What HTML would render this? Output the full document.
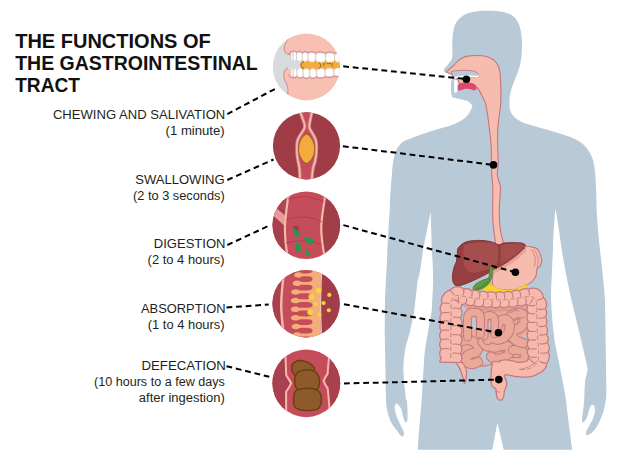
<!DOCTYPE html>
<html><head><meta charset="utf-8">
<style>
html,body{margin:0;padding:0;background:#fff;}
body{width:625px;height:462px;overflow:hidden;}
svg{display:block;}
.t{font-family:"Liberation Sans",sans-serif;font-weight:bold;font-size:20px;fill:#111;}
.l{font-family:"Liberation Sans",sans-serif;font-size:13px;fill:#231f20;}
.p{font-size:12px;}
</style></head><body>
<svg width="625" height="462" viewBox="0 0 625 462">
<!-- BODY SILHOUETTE -->
<path id="body" fill="#b8c9d7" d="
M488.5 10.7
C501 10.5 511 12.5 516 19
C520.5 25 522 34 522 45
C522 57 520.5 65 518 72
C514 82 510 90 509.5 100
L509.5 106
C510 114 514 119 526 123.8
C540 128 560 133 572.7 138
C583 142 590 150 593 160
C595.5 170 596.3 185 596.6 210
C598 240 603 270 605 300
L606.4 393
C606 408 601 420 596 428
C593 432 589 435.5 586.5 435.2
C585.5 434 586 432 587.5 429
C590.5 424 595 416 595 410
C595 406 593.5 404.5 592 404.7
C590 406 589 410 588 414
C587 418 585 422 583 422.2
C581.5 422 582 418 582.5 415
C583.5 408 584.5 400 584.5 390
L585.2 380
L587.8 369.3
L583.4 349.8
C580 335 575 315 571.5 300
C567 280 563 258 561.8 250
C559 230 557 215 555.3 208.7
C554 225 553 240 553 250
C552 270 551 290 551 300
C552 320 554 340 556.4 350
C559.5 365 563 382 566 400
C568 420 570.5 435 572.2 449.7
L503.8 449.7
L497.4 422.8
L492.2 449.7
L417.8 449.7
C418.5 435 420 420 421.6 400
C422.5 385 423.5 370 424.2 358
C425 348 427 338 428 332
C430 320 432 312 432 306
C432.5 295 433 288 433.2 280
C433 265 432 250 431.7 250
C431.5 235 431 222 430.6 212
C428 225 425 240 423 250
C421 265 419 280 417.7 280
C416 295 415 305 413.8 313.8
C412 322 411 327 409.9 332
C407 342 405 348 404.7 352.7
C403.5 360 403.3 365 403.4 371
C403.6 380 405 390 406 400
L406.9 399.9
C407.5 405 407.6 412 407.5 419.8
C407 422 406.5 423 405.9 422.8
C404 421 403.5 418 402.9 415.8
C402 411 401 407 399.9 406.9
C398 404 396.5 403 395.9 403.9
C394.5 405 394.5 408 394.9 409.8
C395.5 414 397 417 397.9 419.8
C399.5 423 401 426 401.9 427.8
C403 430 404.5 433 404 433.7
C403.5 436 402.9 436.7 402.9 436.7
C401 436.5 399 434 398 431.8
C394 427 391.5 424 390 420
C387.5 413 386 406 386 400
L384.7 332
L385 300
C386 280 387 262 387.3 250
C388 235 389 222 389.7 210
C390 196 391 185 391.9 175
C392.5 166 393 162 394 157.6
C395 152 396.5 149 398.4 146.8
C401 143 403 141.5 406 140.3
C412 138 418 135.5 423.3 133.8
C433 130.5 442 128 451.4 125.2
C458 122.5 463 120 466.6 116.5
C469 114 470.5 111 470.9 110
L472.5 106
C470 102 467 100.5 466 100.5
L452 97.3
C451 93 451 88 451 84
L452.3 74.5
L446.8 73
C445.5 72.8 444.5 72.5 444 71.5
C443.6 70.5 443.8 69.5 444.6 68.2
C446 66.5 447.5 65 448.3 63.9
C450 62 451.4 60.5 451.8 59
C452.3 57.5 452.5 56 452.5 54.8
L452.3 50
C452 42 452.5 34 454 28
C456 20 462 15 470 12.5
C476 11 482 10.7 488.5 10.7 Z"/>

<!-- PHARYNX / ESOPHAGUS -->
<path fill="#f6bcae" stroke="#c47581" stroke-width="1.1" d="M446.4 71.9 C449 69.5 451 67.8 452.9 66.2 C455 64 457 61.8 458.9 60.2 C461 58.5 463 57.2 466 56.4 C474 55.2 482 55.2 488 57 C495 59.5 499 65 500 72 C500.6 80 501 90 501 96 L500.9 97.4 L500.9 98.8 L500.9 100.2 L500.8 101.6 L500.7 103.0 L500.6 104.5 L500.4 106.0 L500.3 107.6 L500.1 109.2 L499.8 110.8 L499.6 112.4 L499.4 114.0 L499.2 115.6 L499.0 117.2 L498.8 118.8 L498.6 120.4 L498.4 122.0 L498.2 123.6 L498.1 125.2 L497.9 126.8 L497.8 128.4 L497.7 129.9 L497.7 131.5 L497.6 133.1 L497.6 134.7 L497.5 136.3 L497.5 137.9 L497.6 139.4 L497.6 141.0 L497.6 142.6 L497.6 144.2 L497.7 145.7 L497.7 147.2 L497.8 148.8 L497.8 150.3 L497.9 152.0 L498.0 153.7 L498.0 155.5 L498.1 157.3 L498.2 159.2 L498.2 161.1 L498.2 163.0 L498.1 165.0 L497.9 167.0 L497.6 169.0 L497.4 171.1 L497.3 173.1 L497.4 175.0 L497.7 176.9 L498.2 178.8 L498.7 180.7 L499.3 182.5 L499.8 184.2 L500.2 185.6 L500.4 186.7 L500.5 187.5 L500.5 188.1 L500.5 188.7 L500.5 189.6 L500.4 191.0 L500.3 192.9 L500.1 195.1 L500.0 197.5 L499.8 200.1 L499.6 202.8 L499.5 205.3 L499.4 207.8 L499.4 210.4 L499.4 213.0 L499.4 215.6 L499.4 218.1 L499.5 220.5 L499.6 222.7 L499.8 224.8 L500.0 226.8 L500.3 228.7 L500.6 230.6 L500.9 232.6 L501.3 234.6 L501.8 236.6 L502.3 238.6 L502.8 240.5 L503.3 242.5 L503.8 244.5 L495.6 244.5 L495.3 242.5 L495.1 240.5 L494.8 238.6 L494.6 236.6 L494.3 234.6 L494.1 232.6 L493.9 230.6 L493.6 228.7 L493.4 226.8 L493.2 224.8 L493.0 222.7 L492.9 220.5 L492.8 218.1 L492.7 215.7 L492.7 213.1 L492.6 210.5 L492.6 207.9 L492.6 205.3 L492.6 202.6 L492.7 199.9 L492.8 197.1 L492.8 194.4 L492.9 192.0 L492.9 190.0 L492.9 188.5 L492.9 187.4 L492.8 186.6 L492.8 185.9 L492.7 185.1 L492.6 184.0 L492.5 182.7 L492.4 181.3 L492.2 179.9 L492.1 178.3 L491.9 176.7 L491.8 175.0 L491.7 173.2 L491.6 171.3 L491.6 169.2 L491.5 167.2 L491.4 165.1 L491.4 163.0 L491.4 160.9 L491.4 158.7 L491.4 156.5 L491.4 154.3 L491.4 152.1 L491.3 150.0 L491.2 147.9 L491.1 145.8 L491.0 143.7 L490.8 141.7 L490.7 139.8 L490.5 137.9 L490.3 136.2 L490.1 134.5 L489.9 132.9 L489.7 131.4 L489.5 129.9 L489.3 128.3 L489.1 126.7 L488.9 125.1 L488.7 123.5 L488.5 121.9 L488.3 120.3 L488.1 118.8 L487.9 117.3 L487.7 115.9 L487.5 114.6 L487.3 113.2 L487.1 111.9 L486.9 110.5 L486.7 109.1 L486.4 107.6 L486.1 106.2 L485.8 104.8 L485.5 103.4 L485.1 102.1 L484.6 100.9 L484.1 99.7 L483.5 98.6 L483.0 97.5 L482.4 96.4 L481.8 95.3 C480 91 478.5 89 477.5 88 L460 84 L456 76 L452 74.5 Z"/>
<!-- palate -->
<path fill="#b8c9d7" stroke="#c47581" stroke-width="0.9" d="M451.3 71.4 C457 70.4 465 69.9 472 70.8 C476.5 71.5 478.7 73.5 478.5 76 C478.2 77.6 476.6 78 475 77.4 C470 76 462 76.5 455.5 78.2 L452.5 76.5 Z"/>
<path fill="none" stroke="#fff" stroke-width="1.7" stroke-linecap="round" d="M455.3 77.6 C462 76.1 469.5 75.6 474.5 76.5 C476.2 77 477.4 76.9 477.8 75.8"/>
<path fill="none" stroke="#c47581" stroke-width="0.8" d="M456.8 79.3 C455.8 82 455.5 84.5 455.9 87.5"/>
<!-- tongue -->
<path fill="#dd4a6d" d="M457.4 87.5 C457.2 84.5 460 82.6 465 82.5 C470 82.3 475 83 476.4 86.2 C477.2 88.6 476 90.6 474 90.4 C471.5 89.6 469 88.6 466.5 88.8 C463.5 89 461 90.8 459 90.6 C457.9 90.2 457.4 89 457.4 87.5 Z"/>
<!-- front tooth -->
<path fill="#fff" d="M454.2 80 L457.6 80.3 L457.4 90.5 C457.2 92.3 456 93.2 455 92.8 C454.3 92.3 454.1 91 454.1 89.5 Z"/>
<!-- LIVER -->
<path fill="#963f41" stroke="#7a2f31" stroke-width="0.9" d="M457.7 248.8 C460 245 464 242 469.2 241.1 C474 240.3 478 240.3 482 240.5 C487 240.8 491 241.5 494.8 243 L498.7 245 L503.8 243 C510 242.5 516 242.5 521.7 243 C524 243.5 525.8 244.5 525.5 246.2 C524.5 248.5 523 250 521.7 251.4 C518 254.5 515 257.5 511.5 260.3 C508 263 504.5 265 501.2 266.7 C498.5 268 496 268.8 493.5 269.3 C491.5 270.5 490 271.8 488.4 273.1 C484 275.5 480 277.5 475.6 279.5 C471 281.5 467 283.5 462.8 284.7 C460 285.7 458 286.3 456.4 285.9 C454 284.8 452.8 282.5 452.6 279.5 C452.4 276 452.6 273.5 453.2 270.6 C454 267 455.2 264 456.4 261.6 C457 257 457.2 253 457.7 248.8 Z"/>
<path fill="#a64d4e" d="M464 245 C472 241.8 485 241.5 494 243.2 L498 245.5 C499 252 498.5 259 497.4 265.4 C492 268 484 270.5 476 272.5 C470 273.5 466 271 464.5 266 C463 259 463 251 464 245 Z"/>
<path fill="#a54c4d" d="M500.5 245.5 C507 243.5 516 243.2 521.5 244 C524 245 523.5 247.5 521 250 C515 255 508 260 501 264 C500.5 257 500.5 251 500.5 245.5 Z"/>
<path fill="none" stroke="#86383a" stroke-width="0.8" d="M498.7 245 C499.6 252 499.2 259 497.4 265.4"/>
<!-- STOMACH -->
<path fill="#f6bcae" stroke="#c27683" stroke-width="1.1" d="
M525 246.5 C528 246 531 246.6 533 247.4 C535 247.8 536 248 536.4 248.3
C538.5 250 540 252.5 540.6 255.5 C541.2 257.5 541.8 259.5 541.8 261.4
C541.5 263.5 540.6 265.5 539.4 266.8 C538.5 267.6 537.6 268 537 268.6
C536.6 270.5 536.6 272.5 536.4 274.5 C535.8 276.3 535 277.8 534 279.3
C533 280.8 531.8 282 530.5 282.9 C529.3 283.8 528 284.3 526.9 284.6
C524 286.8 520 288.8 515 289.6 C509 290.3 502 290 496 289 C493.5 287.5 492.5 285 492.3 282
C492.3 276 492.8 273 493.4 270.8
C497 269.5 502 266 505 264.6 C512 260 518 256 525 248.8 Z"/>
<path fill="none" stroke="#e6a394" stroke-width="3" stroke-linecap="round" d="M524.5 250.5 C519 256.5 511 262.5 502 268 C499 269.6 496.5 270.6 494.5 271.4"/>
<path fill="none" stroke="#c98089" stroke-width="0.9" d="M533.5 249.5 C536.5 252 538 256 538.2 261 C538.2 263.5 537.8 265.5 537 267.5 M531 249.5 C534 252.5 535.2 256.5 535.2 261 C535.2 263.5 534.8 265.5 534 267"/>
<!-- PANCREAS -->
<path fill="#f4d235" stroke="#e0b52a" stroke-width="0.6" d="
M482.5 287.5 C482.5 284.5 485 283.2 488 283.6 C491 284 493.5 286 496 287.5
C500 289.5 505 290.2 510 290 C515 289.5 519 288 522 286.3
C524 285.2 526 284.5 527.5 284.5 C528 285.5 527.5 286.5 526.5 287.5
C523 290.5 519 292.5 514 293.3 C508 294 502 293.8 496 293
C491 292.4 486 292 484 291 C483 290 482.5 289 482.5 287.5 Z"/>
<!-- GALLBLADDER -->
<path fill="none" stroke="#3f7a28" stroke-width="3.4" stroke-linecap="round" d="M488 281.5 C490 279 491 276 491 272 L491.3 268"/>
<path fill="none" stroke="#5f9d40" stroke-width="2.2" stroke-linecap="round" d="M488 281.5 C490 279 491 276 491 272 L491.3 268"/>
<path fill="#5f9d40" stroke="#3f7a28" stroke-width="0.8" d="
M473 288 C473.5 285.5 476 283.5 479 282 C482 280.5 485 279 488 278.5
C490 278.5 490.5 280.5 489.5 282.5 C488 285 485 287 482 288.5
C479 290 476.5 291 474.8 290.7 C473.5 290.3 473 289.3 473 288 Z"/>
<path fill="none" stroke="#3f7a28" stroke-width="0.9" d="M475 289.5 C479 288.5 484 286 488 282"/>

<!-- SMALL INTESTINE -->
<path d="M462 306 L528 305 L528.5 362 C522 366 512 366 505 364 L492 364 C488 366 482 366.5 478 366 C472 368 466 367 463 364 L460.5 358 L460.5 310 Z" fill="#e9a898" stroke="#c27a82" stroke-width="1"/>
<g fill="#b8c9d7"><path d="M461 303 L468 303 C466 308 465 314 464.5 324 L461 324 Z"/><path d="M471.6 318.6 L476.6 318.6 L476.6 328.8 L471.6 328.8 Z"/><path d="M487.5 322.7 L491.3 322.7 L491.3 328.8 L487.5 328.8 Z"/><path d="M459.5 335 C462 337 464 340 464 345.5 L459.5 345.5 Z"/><path d="M481 353 C484 351 489 351 490.5 354 L490.5 363.6 L481 363.6 Z"/><path d="M498 341 C500 342.5 502 342.5 504 341 C503 344 499 344.5 498 341 Z"/><path d="M523 334 C525 334.5 527 336 528 339 L524 340 Z"/><path d="M524 304.5 L528.5 304.5 L528.5 309 C526.5 308 525 306.5 524 304.5 Z"/><path d="M497.6 317.8 L500.6 317.8 L499 320.5 Z"/><path d="M526 315 L528.6 315 L528.6 317 Z"/></g>
<path d="M463 305 L528 305 L528 313 C515 312 505 313 495 312 C485 311.5 475 311 466 309 Z" fill="#e3a392"/>
<path d="M468 308 C480 310 500 310.5 526 309.5" fill="none" stroke="#c29a84" stroke-width="1.4" opacity="0.8"/>
<path d="M462.0 341.0 L462.8 340.9 L463.5 340.7 L464.2 340.5 L465.0 340.3 L465.8 340.2 L466.5 340.0 L467.2 340.0 L468.0 340.0 L468.8 340.1 L469.5 340.2 L470.3 340.4 L471.1 340.6 L471.9 340.9 L472.6 341.2 L473.3 341.6 L474.0 342.0 L474.6 342.5 L475.3 343.0 L475.9 343.7 L476.5 344.3 L477.0 345.0 L477.5 345.7 L477.8 346.4 L478.0 347.0 L478.1 347.6 L478.0 348.3 L477.9 349.0 L477.6 349.7 L477.3 350.3 L476.9 351.0 L476.5 351.5 L476.0 352.0 L475.4 352.4 L474.7 352.7 L474.0 352.9 L473.1 353.1 L472.3 353.3 L471.5 353.5 L470.7 353.7 L470.0 354.0 L469.4 354.4 L468.7 354.7 L468.1 355.2 L467.6 355.6 L467.0 356.0 L466.6 356.5 L466.2 357.0 L466.0 357.5 L465.9 358.0 L465.8 358.6 L465.8 359.2 L465.9 359.8 L466.1 360.5 L466.4 361.0 L466.6 361.6 L467.0 362.0 L467.4 362.4 L467.9 362.8 L468.5 363.1 L469.2 363.4 L469.9 363.7 L470.6 363.8 L471.3 364.0 L472.0 364.0 L472.7 363.9 L473.4 363.8 L474.2 363.5 L474.9 363.2 L475.7 362.9 L476.5 362.6 L477.2 362.3 L478.0 362.0" fill="none" stroke="#c27a82" stroke-width="10.4" stroke-linecap="round" stroke-linejoin="round"/>
<path d="M462.0 341.0 L462.8 340.9 L463.5 340.7 L464.2 340.5 L465.0 340.3 L465.8 340.2 L466.5 340.0 L467.2 340.0 L468.0 340.0 L468.8 340.1 L469.5 340.2 L470.3 340.4 L471.1 340.6 L471.9 340.9 L472.6 341.2 L473.3 341.6 L474.0 342.0 L474.6 342.5 L475.3 343.0 L475.9 343.7 L476.5 344.3 L477.0 345.0 L477.5 345.7 L477.8 346.4 L478.0 347.0 L478.1 347.6 L478.0 348.3 L477.9 349.0 L477.6 349.7 L477.3 350.3 L476.9 351.0 L476.5 351.5 L476.0 352.0 L475.4 352.4 L474.7 352.7 L474.0 352.9 L473.1 353.1 L472.3 353.3 L471.5 353.5 L470.7 353.7 L470.0 354.0 L469.4 354.4 L468.7 354.7 L468.1 355.2 L467.6 355.6 L467.0 356.0 L466.6 356.5 L466.2 357.0 L466.0 357.5 L465.9 358.0 L465.8 358.6 L465.8 359.2 L465.9 359.8 L466.1 360.5 L466.4 361.0 L466.6 361.6 L467.0 362.0 L467.4 362.4 L467.9 362.8 L468.5 363.1 L469.2 363.4 L469.9 363.7 L470.6 363.8 L471.3 364.0 L472.0 364.0 L472.7 363.9 L473.4 363.8 L474.2 363.5 L474.9 363.2 L475.7 362.9 L476.5 362.6 L477.2 362.3 L478.0 362.0" fill="none" stroke="#e9a898" stroke-width="8.4" stroke-linecap="round" stroke-linejoin="round"/>
<path d="M482.5 342.0 L483.0 342.5 L483.6 343.1 L484.1 343.6 L484.6 344.2 L485.1 344.7 L485.7 345.2 L486.3 345.6 L487.0 346.0 L487.8 346.3 L488.6 346.6 L489.5 346.9 L490.4 347.1 L491.3 347.2 L492.3 347.4 L493.2 347.4 L494.0 347.5 L494.8 347.5 L495.6 347.4 L496.3 347.3 L497.1 347.2 L497.8 347.0 L498.5 346.8 L499.3 346.6 L500.0 346.5 L500.8 346.3 L501.5 346.1 L502.3 345.9 L503.1 345.7 L503.9 345.5 L504.6 345.4 L505.3 345.4 L506.0 345.5 L506.6 345.7 L507.3 346.0 L507.9 346.4 L508.5 346.8 L509.0 347.3 L509.5 347.8 L509.8 348.4 L510.0 349.0 L510.1 349.7 L510.0 350.4 L509.9 351.2 L509.6 352.0 L509.3 352.9 L508.9 353.7 L508.5 354.4 L508.0 355.0 L507.4 355.5 L506.8 356.0 L506.1 356.4 L505.3 356.8 L504.5 357.2 L503.7 357.5 L502.8 357.7 L502.0 358.0 L501.2 358.2 L500.2 358.5 L499.3 358.7 L498.4 358.8 L497.4 359.0 L496.6 359.0 L495.7 359.1 L495.0 359.0 L494.4 358.9 L493.8 358.6 L493.3 358.3 L492.8 358.0 L492.4 357.6 L491.9 357.2 L491.5 356.8 L491.0 356.5" fill="none" stroke="#c27a82" stroke-width="10.4" stroke-linecap="round" stroke-linejoin="round"/>
<path d="M482.5 342.0 L483.0 342.5 L483.6 343.1 L484.1 343.6 L484.6 344.2 L485.1 344.7 L485.7 345.2 L486.3 345.6 L487.0 346.0 L487.8 346.3 L488.6 346.6 L489.5 346.9 L490.4 347.1 L491.3 347.2 L492.3 347.4 L493.2 347.4 L494.0 347.5 L494.8 347.5 L495.6 347.4 L496.3 347.3 L497.1 347.2 L497.8 347.0 L498.5 346.8 L499.3 346.6 L500.0 346.5 L500.8 346.3 L501.5 346.1 L502.3 345.9 L503.1 345.7 L503.9 345.5 L504.6 345.4 L505.3 345.4 L506.0 345.5 L506.6 345.7 L507.3 346.0 L507.9 346.4 L508.5 346.8 L509.0 347.3 L509.5 347.8 L509.8 348.4 L510.0 349.0 L510.1 349.7 L510.0 350.4 L509.9 351.2 L509.6 352.0 L509.3 352.9 L508.9 353.7 L508.5 354.4 L508.0 355.0 L507.4 355.5 L506.8 356.0 L506.1 356.4 L505.3 356.8 L504.5 357.2 L503.7 357.5 L502.8 357.7 L502.0 358.0 L501.2 358.2 L500.2 358.5 L499.3 358.7 L498.4 358.8 L497.4 359.0 L496.6 359.0 L495.7 359.1 L495.0 359.0 L494.4 358.9 L493.8 358.6 L493.3 358.3 L492.8 358.0 L492.4 357.6 L491.9 357.2 L491.5 356.8 L491.0 356.5" fill="none" stroke="#e9a898" stroke-width="8.4" stroke-linecap="round" stroke-linejoin="round"/>
<path d="M513.0 350.0 L513.8 350.0 L514.5 349.9 L515.3 349.9 L516.1 349.8 L516.8 349.8 L517.6 349.8 L518.3 349.9 L519.0 350.0 L519.7 350.2 L520.4 350.5 L521.1 350.8 L521.8 351.2 L522.4 351.6 L523.0 352.0 L523.5 352.5 L524.0 353.0 L524.4 353.5 L524.8 354.1 L525.1 354.8 L525.4 355.5 L525.6 356.1 L525.7 356.8 L525.7 357.4 L525.5 358.0 L525.2 358.5 L524.7 359.1 L524.1 359.6 L523.3 360.0 L522.6 360.5 L521.7 360.9 L520.9 361.2 L520.0 361.5 L519.1 361.7 L518.2 361.8 L517.2 361.9 L516.2 361.9 L515.1 361.9 L514.1 361.9 L513.0 362.0 L512.0 362.0" fill="none" stroke="#c27a82" stroke-width="10.0" stroke-linecap="round" stroke-linejoin="round"/>
<path d="M513.0 350.0 L513.8 350.0 L514.5 349.9 L515.3 349.9 L516.1 349.8 L516.8 349.8 L517.6 349.8 L518.3 349.9 L519.0 350.0 L519.7 350.2 L520.4 350.5 L521.1 350.8 L521.8 351.2 L522.4 351.6 L523.0 352.0 L523.5 352.5 L524.0 353.0 L524.4 353.5 L524.8 354.1 L525.1 354.8 L525.4 355.5 L525.6 356.1 L525.7 356.8 L525.7 357.4 L525.5 358.0 L525.2 358.5 L524.7 359.1 L524.1 359.6 L523.3 360.0 L522.6 360.5 L521.7 360.9 L520.9 361.2 L520.0 361.5 L519.1 361.7 L518.2 361.8 L517.2 361.9 L516.2 361.9 L515.1 361.9 L514.1 361.9 L513.0 362.0 L512.0 362.0" fill="none" stroke="#e9a898" stroke-width="8.0" stroke-linecap="round" stroke-linejoin="round"/>
<path d="M511.0 316.0 L511.8 315.6 L512.5 315.1 L513.2 314.7 L514.0 314.2 L514.8 313.8 L515.5 313.4 L516.2 313.1 L517.0 313.0 L517.8 313.0 L518.6 313.0 L519.4 313.2 L520.3 313.4 L521.1 313.7 L521.8 314.0 L522.5 314.5 L523.0 315.0 L523.4 315.6 L523.8 316.4 L524.2 317.3 L524.4 318.2 L524.6 319.2 L524.7 320.2 L524.6 321.1 L524.5 322.0 L524.2 322.8 L523.8 323.7 L523.3 324.5 L522.7 325.3 L522.1 326.1 L521.4 326.8 L520.7 327.4 L520.0 328.0 L519.3 328.4 L518.5 328.7 L517.7 328.9 L516.8 329.0 L516.0 329.1 L515.3 329.3 L514.6 329.6 L514.0 330.0 L513.5 330.6 L513.1 331.2 L512.6 332.0 L512.3 332.8 L512.1 333.6 L511.9 334.5 L511.9 335.3 L512.0 336.0 L512.3 336.7 L512.7 337.4 L513.3 338.1 L514.0 338.8 L514.7 339.4 L515.5 340.0 L516.3 340.5 L517.0 341.0 L517.7 341.4 L518.5 341.7 L519.3 342.0 L520.2 342.2 L521.0 342.4 L521.8 342.6 L522.7 342.8 L523.5 343.0" fill="none" stroke="#c27a82" stroke-width="10.4" stroke-linecap="round" stroke-linejoin="round"/>
<path d="M511.0 316.0 L511.8 315.6 L512.5 315.1 L513.2 314.7 L514.0 314.2 L514.8 313.8 L515.5 313.4 L516.2 313.1 L517.0 313.0 L517.8 313.0 L518.6 313.0 L519.4 313.2 L520.3 313.4 L521.1 313.7 L521.8 314.0 L522.5 314.5 L523.0 315.0 L523.4 315.6 L523.8 316.4 L524.2 317.3 L524.4 318.2 L524.6 319.2 L524.7 320.2 L524.6 321.1 L524.5 322.0 L524.2 322.8 L523.8 323.7 L523.3 324.5 L522.7 325.3 L522.1 326.1 L521.4 326.8 L520.7 327.4 L520.0 328.0 L519.3 328.4 L518.5 328.7 L517.7 328.9 L516.8 329.0 L516.0 329.1 L515.3 329.3 L514.6 329.6 L514.0 330.0 L513.5 330.6 L513.1 331.2 L512.6 332.0 L512.3 332.8 L512.1 333.6 L511.9 334.5 L511.9 335.3 L512.0 336.0 L512.3 336.7 L512.7 337.4 L513.3 338.1 L514.0 338.8 L514.7 339.4 L515.5 340.0 L516.3 340.5 L517.0 341.0 L517.7 341.4 L518.5 341.7 L519.3 342.0 L520.2 342.2 L521.0 342.4 L521.8 342.6 L522.7 342.8 L523.5 343.0" fill="none" stroke="#e9a898" stroke-width="8.4" stroke-linecap="round" stroke-linejoin="round"/>
<path d="M497.5 327.0 L497.8 326.2 L498.0 325.4 L498.3 324.6 L498.5 323.7 L498.8 322.9 L499.1 322.2 L499.5 321.5 L500.0 321.0 L500.6 320.6 L501.3 320.2 L502.1 319.8 L502.9 319.6 L503.8 319.4 L504.6 319.3 L505.3 319.4 L506.0 319.5 L506.6 319.8 L507.2 320.1 L507.7 320.6 L508.2 321.2 L508.6 321.8 L509.0 322.5 L509.3 323.2 L509.5 324.0 L509.6 324.8 L509.7 325.8 L509.7 326.8 L509.6 327.9 L509.4 329.0 L509.2 330.1 L508.9 331.1 L508.5 332.0 L508.0 332.9 L507.5 333.7 L506.8 334.6 L506.1 335.4 L505.3 336.2 L504.5 336.9 L503.7 337.5 L503.0 338.0 L502.3 338.4 L501.5 338.8 L500.8 339.0 L500.0 339.2 L499.3 339.4 L498.5 339.5 L497.8 339.5 L497.0 339.5 L496.2 339.4 L495.4 339.1 L494.6 338.8 L493.8 338.4 L493.1 338.1 L492.3 337.8 L491.6 337.6 L491.0 337.5 L490.4 337.6 L489.9 337.8 L489.5 338.1 L489.1 338.5 L488.7 338.9 L488.3 339.3 L487.9 339.7 L487.5 340.0" fill="none" stroke="#c27a82" stroke-width="10.4" stroke-linecap="round" stroke-linejoin="round"/>
<path d="M497.5 327.0 L497.8 326.2 L498.0 325.4 L498.3 324.6 L498.5 323.7 L498.8 322.9 L499.1 322.2 L499.5 321.5 L500.0 321.0 L500.6 320.6 L501.3 320.2 L502.1 319.8 L502.9 319.6 L503.8 319.4 L504.6 319.3 L505.3 319.4 L506.0 319.5 L506.6 319.8 L507.2 320.1 L507.7 320.6 L508.2 321.2 L508.6 321.8 L509.0 322.5 L509.3 323.2 L509.5 324.0 L509.6 324.8 L509.7 325.8 L509.7 326.8 L509.6 327.9 L509.4 329.0 L509.2 330.1 L508.9 331.1 L508.5 332.0 L508.0 332.9 L507.5 333.7 L506.8 334.6 L506.1 335.4 L505.3 336.2 L504.5 336.9 L503.7 337.5 L503.0 338.0 L502.3 338.4 L501.5 338.8 L500.8 339.0 L500.0 339.2 L499.3 339.4 L498.5 339.5 L497.8 339.5 L497.0 339.5 L496.2 339.4 L495.4 339.1 L494.6 338.8 L493.8 338.4 L493.1 338.1 L492.3 337.8 L491.6 337.6 L491.0 337.5 L490.4 337.6 L489.9 337.8 L489.5 338.1 L489.1 338.5 L488.7 338.9 L488.3 339.3 L487.9 339.7 L487.5 340.0" fill="none" stroke="#e9a898" stroke-width="8.4" stroke-linecap="round" stroke-linejoin="round"/>
<path d="M484.3 336.0 L484.3 333.9 L484.3 331.7 L484.2 329.5 L484.2 327.2 L484.1 325.1 L484.2 323.1 L484.2 321.4 L484.3 320.0 L484.5 318.9 L484.7 318.1 L484.9 317.5 L485.2 317.2 L485.4 316.9 L485.8 316.7 L486.1 316.4 L486.4 316.2 L486.7 315.9 L487.1 315.8 L487.5 315.6 L487.9 315.5 L488.3 315.5 L488.7 315.4 L489.1 315.4 L489.5 315.4 L489.9 315.4 L490.3 315.4 L490.7 315.5 L491.1 315.5 L491.5 315.6 L491.9 315.8 L492.3 315.9 L492.6 316.2 L492.9 316.5 L493.2 316.7 L493.6 317.0 L493.8 317.3 L494.1 317.7 L494.3 318.3 L494.5 319.0 L494.7 320.0 L494.8 321.3 L494.8 322.8 L494.9 324.5 L494.8 326.4 L494.8 328.3 L494.7 330.3 L494.7 332.2 L494.7 334.0" fill="none" stroke="#c27a82" stroke-width="8.6" stroke-linecap="round" stroke-linejoin="round"/>
<path d="M484.3 336.0 L484.3 333.9 L484.3 331.7 L484.2 329.5 L484.2 327.2 L484.1 325.1 L484.2 323.1 L484.2 321.4 L484.3 320.0 L484.5 318.9 L484.7 318.1 L484.9 317.5 L485.2 317.2 L485.4 316.9 L485.8 316.7 L486.1 316.4 L486.4 316.2 L486.7 315.9 L487.1 315.8 L487.5 315.6 L487.9 315.5 L488.3 315.5 L488.7 315.4 L489.1 315.4 L489.5 315.4 L489.9 315.4 L490.3 315.4 L490.7 315.5 L491.1 315.5 L491.5 315.6 L491.9 315.8 L492.3 315.9 L492.6 316.2 L492.9 316.5 L493.2 316.7 L493.6 317.0 L493.8 317.3 L494.1 317.7 L494.3 318.3 L494.5 319.0 L494.7 320.0 L494.8 321.3 L494.8 322.8 L494.9 324.5 L494.8 326.4 L494.8 328.3 L494.7 330.3 L494.7 332.2 L494.7 334.0" fill="none" stroke="#e9a898" stroke-width="6.6" stroke-linecap="round" stroke-linejoin="round"/>
<path d="M467.6 337.0 L467.6 334.5 L467.6 331.9 L467.5 329.2 L467.5 326.6 L467.5 324.1 L467.5 321.7 L467.5 319.7 L467.6 318.0 L467.7 316.7 L467.9 315.8 L468.1 315.1 L468.3 314.6 L468.5 314.2 L468.8 314.0 L469.1 313.7 L469.5 313.4 L469.9 313.1 L470.4 312.8 L471.0 312.6 L471.6 312.4 L472.2 312.3 L472.8 312.3 L473.4 312.2 L474.0 312.2 L474.6 312.2 L475.2 312.3 L475.8 312.3 L476.4 312.4 L477.0 312.6 L477.6 312.8 L478.1 313.1 L478.5 313.4 L478.9 313.7 L479.2 314.0 L479.5 314.4 L479.7 314.8 L479.9 315.3 L480.1 316.0 L480.3 316.9 L480.4 318.0 L480.5 319.5 L480.5 321.2 L480.5 323.2 L480.5 325.3 L480.5 327.5 L480.4 329.7 L480.4 331.9 L480.4 334.0" fill="none" stroke="#c27a82" stroke-width="9.0" stroke-linecap="round" stroke-linejoin="round"/>
<path d="M467.6 337.0 L467.6 334.5 L467.6 331.9 L467.5 329.2 L467.5 326.6 L467.5 324.1 L467.5 321.7 L467.5 319.7 L467.6 318.0 L467.7 316.7 L467.9 315.8 L468.1 315.1 L468.3 314.6 L468.5 314.2 L468.8 314.0 L469.1 313.7 L469.5 313.4 L469.9 313.1 L470.4 312.8 L471.0 312.6 L471.6 312.4 L472.2 312.3 L472.8 312.3 L473.4 312.2 L474.0 312.2 L474.6 312.2 L475.2 312.3 L475.8 312.3 L476.4 312.4 L477.0 312.6 L477.6 312.8 L478.1 313.1 L478.5 313.4 L478.9 313.7 L479.2 314.0 L479.5 314.4 L479.7 314.8 L479.9 315.3 L480.1 316.0 L480.3 316.9 L480.4 318.0 L480.5 319.5 L480.5 321.2 L480.5 323.2 L480.5 325.3 L480.5 327.5 L480.4 329.7 L480.4 331.9 L480.4 334.0" fill="none" stroke="#e9a898" stroke-width="7.0" stroke-linecap="round" stroke-linejoin="round"/>
<path d="M510 313 L517 309 M515 310.5 L519 311 M514 321 L520 318 L524 317.5 M518 319 L517.5 323 M470 345 L474 348 M500 350 L505 352 M521 354 L519 358 M489 350 L492 353" fill="none" stroke="#c27a82" stroke-width="0.9" stroke-linecap="round"/>
<!-- COLON -->
<g fill="#c27a82" stroke="#c27a82" stroke-width="2.5" stroke-linejoin="round"><path d="M493.5 362 C491.5 367 491 380 492.3 385.2 C493.5 387 496 387.5 496.4 388.4 C497 391 497 395 497.5 397 C498 399.5 500.5 400.2 502 399 C503.5 397 503.5 394 503.7 391.7 C504 389.5 505.5 387.5 506 385.2 C506.5 382 505 379 503.7 377 C503.5 374 505 372 507 370 L507 363 Z"/><path d="M457 363 C461 368 463 374 464.6 382.4 C465.5 378 466 374 466 371.4 C465 367 463.5 365 462 363 Z"/><path d="M459.7 362.0 L460.4 361.0 L460.9 360.0 L461.1 359.0 L461.2 358.0 L461.1 357.0 L460.9 356.0 L460.5 355.0 L459.8 354.0 L459.8 353.0 L460.5 352.0 L460.9 351.0 L461.1 350.0 L461.2 349.0 L461.1 348.0 L460.9 347.0 L460.5 346.0 L459.8 345.0 L459.8 344.0 L460.5 343.0 L460.9 342.0 L461.2 341.0 L461.3 340.0 L461.2 339.0 L461.0 338.1 L460.5 337.0 L459.9 336.0 L459.9 335.1 L460.6 334.1 L461.0 333.1 L461.2 332.1 L461.3 331.1 L461.3 330.1 L461.0 329.1 L460.6 328.1 L459.9 327.1 L459.9 326.1 L460.6 325.1 L461.1 324.1 L461.3 323.1 L461.4 322.1 L461.3 321.1 L461.1 320.2 L460.7 319.2 L460.0 318.2 L460.0 317.1 L460.7 316.1 L461.1 315.0 L461.3 314.0 L461.4 313.0 L461.2 312.0 L461.0 311.0 L460.5 310.0 L459.8 309.1 L460.0 308.1 L460.6 307.3 L461.0 306.4 L461.2 305.7 L461.2 305.0 L461.1 304.4 L460.9 303.9 L460.4 303.2 L459.4 302.3 L460.2 302.3 L460.4 302.4 L460.1 302.9 L459.5 303.4 L458.8 303.5 L458.3 303.4 L457.6 303.1 L457.5 302.4 L457.9 302.4 L458.5 303.0 L459.3 303.4 L460.2 303.7 L461.2 303.8 L462.4 303.8 L463.6 303.6 L464.6 303.2 L465.6 302.7 L466.4 303.6 L467.3 304.2 L468.2 304.6 L469.2 304.8 L470.2 304.9 L471.2 304.9 L472.3 304.7 L473.4 304.2 L474.4 304.7 L475.4 305.3 L476.4 305.8 L477.4 306.1 L478.5 306.2 L479.7 306.1 L480.7 305.9 L481.8 305.5 L482.9 305.3 L483.9 306.0 L484.9 306.5 L485.9 306.8 L487.0 306.9 L488.0 306.8 L489.1 306.6 L490.1 306.2 L491.2 305.5 L492.2 306.2 L493.2 306.7 L494.3 307.0 L495.3 307.1 L496.3 307.1 L497.4 306.9 L498.4 306.5 L499.4 306.0 L500.5 306.0 L501.5 306.5 L502.6 306.8 L503.6 307.0 L504.7 307.0 L505.7 306.8 L506.8 306.5 L507.8 305.9 L508.8 305.2 L509.9 305.9 L511.0 306.2 L512.2 306.4 L513.3 306.4 L514.4 306.2 L515.4 305.8 L516.4 305.3 L517.3 304.5 L518.4 304.7 L519.5 305.1 L520.5 305.2 L521.5 305.2 L522.4 305.1 L523.3 304.8 L524.1 304.4 L524.9 303.9 L526.0 303.5 L527.1 304.1 L528.1 304.4 L529.1 304.6 L529.8 304.6 L530.3 304.6 L530.5 304.4 L530.4 304.0 L530.2 303.1 L529.5 303.7 L528.6 303.7 L527.9 303.3 L527.5 303.2 L527.4 303.3 L527.6 303.8 L528.0 304.4 L528.7 304.8 L528.9 305.4 L528.3 306.2 L527.9 307.0 L527.7 307.9 L527.6 308.8 L527.7 309.7 L528.0 310.7 L528.4 311.7 L529.2 312.7 L528.6 313.7 L528.1 314.8 L527.7 315.8 L527.6 316.9 L527.6 318.0 L527.8 319.1 L528.1 320.1 L528.7 321.1 L529.3 322.1 L528.5 323.1 L528.0 324.1 L527.7 325.2 L527.6 326.2 L527.7 327.2 L528.0 328.2 L528.4 329.2 L529.1 330.1 L529.1 331.2 L528.5 332.2 L528.1 333.2 L527.9 334.2 L527.8 335.3 L527.9 336.3 L528.2 337.3 L528.7 338.4 L529.5 339.3 L529.2 340.4 L528.6 341.4 L528.2 342.5 L528.0 343.5 L528.0 344.5 L528.2 345.5 L528.5 346.4 L529.0 347.3 L530.0 348.2 L529.2 349.2 L528.6 350.1 L528.2 351.0 L528.0 351.8 L528.1 352.8 L528.4 353.9 L528.8 354.9 L529.4 355.8 L530.0 356.7 L529.3 357.3 L528.9 357.6 L528.7 357.8 L528.8 357.7 L529.0 357.7 L529.3 357.9 L529.6 358.4 L529.9 359.0 L529.3 359.1 L529.0 359.3 L528.7 359.7 L528.4 360.1 L528.2 360.6 L527.9 361.0 L527.6 361.4 L527.2 361.6 L526.8 361.8 L526.3 362.0 L525.7 362.1 L524.9 362.3 L524.2 362.5 L523.4 362.6 L522.5 362.7 L521.7 362.8 L520.8 362.9 L519.8 363.0 L518.9 363.0 L518.1 363.0 L517.5 362.9 L516.9 362.7 L516.1 362.6 L515.4 362.4 L514.5 362.1 L513.5 361.8 L512.5 361.5 L511.3 361.2 L509.9 360.9 L508.4 360.7 L507.0 360.6 L505.7 360.6 L504.4 360.6 L503.2 360.7 L502.1 360.8 L501.1 360.9 L500.3 361.0 L501.0 374.9 L502.1 374.8 L503.2 374.7 L504.2 374.5 L505.0 374.4 L505.7 374.3 L506.4 374.3 L507.0 374.3 L507.6 374.3 L508.1 374.3 L508.8 374.5 L509.6 374.6 L510.5 374.9 L511.6 375.1 L512.7 375.3 L513.9 375.6 L515.1 375.8 L516.5 375.9 L517.8 376.0 L518.9 376.1 L520.0 376.2 L521.1 376.3 L522.2 376.4 L523.4 376.5 L524.5 376.5 L525.7 376.5 L527.0 376.4 L528.3 376.3 L529.7 376.2 L531.2 375.9 L532.8 375.5 L534.2 375.1 L535.7 374.5 L537.0 373.7 L538.2 372.8 L539.6 372.2 L541.1 371.4 L542.4 370.5 L543.6 369.3 L544.7 367.9 L545.6 366.3 L546.0 364.3 L546.5 362.4 L547.6 360.7 L548.2 359.0 L548.5 357.5 L548.7 356.2 L548.6 355.1 L548.4 354.1 L547.9 353.1 L546.8 352.2 L547.9 351.1 L548.4 349.9 L548.6 348.8 L548.7 347.7 L548.5 346.6 L548.2 345.6 L547.8 344.6 L547.1 343.6 L546.4 342.7 L547.1 341.6 L547.5 340.6 L547.6 339.6 L547.6 338.6 L547.5 337.6 L547.1 336.7 L546.6 335.7 L545.9 334.8 L545.6 333.9 L546.3 332.9 L546.6 331.8 L546.8 330.8 L546.8 329.9 L546.7 328.9 L546.3 327.9 L545.8 326.9 L545.0 326.0 L545.2 325.0 L545.8 323.9 L546.1 322.9 L546.3 321.9 L546.2 321.0 L546.0 320.0 L545.7 319.0 L545.1 318.0 L544.0 317.1 L545.0 316.2 L545.6 315.3 L545.9 314.4 L546.0 313.4 L546.0 312.4 L545.8 311.4 L545.4 310.4 L544.8 309.3 L544.7 308.3 L545.3 307.2 L545.7 306.0 L545.9 304.7 L545.8 303.4 L545.5 301.9 L545.0 300.6 L544.1 299.3 L542.8 298.0 L542.5 296.1 L541.6 293.8 L539.9 291.6 L537.7 290.0 L535.4 289.0 L532.8 288.7 L530.8 288.9 L529.3 289.5 L528.0 289.9 L526.8 289.5 L525.7 289.3 L524.7 289.3 L523.8 289.4 L522.9 289.7 L521.7 290.1 L520.7 290.7 L519.8 291.8 L518.6 291.1 L517.5 290.9 L516.5 290.8 L515.5 290.9 L514.6 291.2 L513.7 291.5 L512.8 292.1 L512.0 292.8 L511.1 292.9 L510.1 292.4 L509.2 292.2 L508.3 292.1 L507.3 292.2 L506.4 292.4 L505.5 292.7 L504.6 293.3 L503.6 293.8 L502.6 293.1 L501.7 292.7 L500.7 292.5 L499.8 292.5 L498.8 292.6 L497.8 292.8 L496.9 293.2 L495.9 293.9 L494.9 293.4 L494.0 292.9 L493.0 292.6 L492.0 292.4 L491.1 292.4 L490.1 292.6 L489.2 292.8 L488.2 293.3 L487.2 293.5 L486.3 292.8 L485.4 292.4 L484.4 292.1 L483.5 292.0 L482.5 292.0 L481.6 292.2 L480.6 292.5 L479.6 293.3 L478.8 292.3 L478.0 291.7 L477.1 291.3 L476.2 291.0 L475.2 290.9 L474.2 290.9 L473.2 291.1 L472.1 291.5 L471.1 291.2 L470.2 290.4 L469.3 289.9 L468.3 289.5 L467.2 289.3 L466.1 289.3 L465.2 289.4 L464.3 289.7 L463.3 289.9 L462.5 289.0 L461.5 288.3 L460.2 287.8 L458.7 287.4 L456.9 287.4 L454.5 287.8 L452.1 288.9 L450.4 290.4 L448.0 291.5 L445.8 293.1 L444.2 294.9 L443.2 296.5 L442.5 298.1 L442.1 299.4 L442.0 301.0 L442.4 302.5 L442.7 303.8 L441.8 305.0 L441.3 306.2 L441.0 307.3 L440.8 308.4 L440.8 309.5 L441.0 310.5 L441.4 311.5 L442.0 312.5 L442.1 313.5 L441.4 314.5 L440.9 315.5 L440.7 316.4 L440.5 317.4 L440.6 318.3 L440.8 319.3 L441.2 320.4 L441.9 321.4 L441.9 322.4 L441.2 323.4 L440.8 324.4 L440.5 325.4 L440.4 326.4 L440.5 327.4 L440.7 328.4 L441.1 329.4 L441.8 330.4 L441.8 331.4 L441.1 332.4 L440.7 333.4 L440.4 334.4 L440.3 335.4 L440.4 336.4 L440.7 337.4 L441.1 338.5 L441.8 339.5 L441.8 340.5 L441.1 341.5 L440.6 342.5 L440.4 343.5 L440.3 344.5 L440.4 345.5 L440.7 346.5 L441.1 347.5 L441.8 348.5 L441.8 349.5 L441.1 350.5 L440.7 351.5 L440.4 352.5 L440.4 353.5 L440.5 354.5 L440.7 355.5 L441.1 356.5 L441.8 357.5 L441.8 358.5 L441.2 359.5 L440.7 360.5 L440.5 361.5 Z"/></g>
<g fill="#f6b9ab"><path d="M493.5 362 C491.5 367 491 380 492.3 385.2 C493.5 387 496 387.5 496.4 388.4 C497 391 497 395 497.5 397 C498 399.5 500.5 400.2 502 399 C503.5 397 503.5 394 503.7 391.7 C504 389.5 505.5 387.5 506 385.2 C506.5 382 505 379 503.7 377 C503.5 374 505 372 507 370 L507 363 Z"/><path d="M457 363 C461 368 463 374 464.6 382.4 C465.5 378 466 374 466 371.4 C465 367 463.5 365 462 363 Z"/><path d="M459.7 362.0 L460.4 361.0 L460.9 360.0 L461.1 359.0 L461.2 358.0 L461.1 357.0 L460.9 356.0 L460.5 355.0 L459.8 354.0 L459.8 353.0 L460.5 352.0 L460.9 351.0 L461.1 350.0 L461.2 349.0 L461.1 348.0 L460.9 347.0 L460.5 346.0 L459.8 345.0 L459.8 344.0 L460.5 343.0 L460.9 342.0 L461.2 341.0 L461.3 340.0 L461.2 339.0 L461.0 338.1 L460.5 337.0 L459.9 336.0 L459.9 335.1 L460.6 334.1 L461.0 333.1 L461.2 332.1 L461.3 331.1 L461.3 330.1 L461.0 329.1 L460.6 328.1 L459.9 327.1 L459.9 326.1 L460.6 325.1 L461.1 324.1 L461.3 323.1 L461.4 322.1 L461.3 321.1 L461.1 320.2 L460.7 319.2 L460.0 318.2 L460.0 317.1 L460.7 316.1 L461.1 315.0 L461.3 314.0 L461.4 313.0 L461.2 312.0 L461.0 311.0 L460.5 310.0 L459.8 309.1 L460.0 308.1 L460.6 307.3 L461.0 306.4 L461.2 305.7 L461.2 305.0 L461.1 304.4 L460.9 303.9 L460.4 303.2 L459.4 302.3 L460.2 302.3 L460.4 302.4 L460.1 302.9 L459.5 303.4 L458.8 303.5 L458.3 303.4 L457.6 303.1 L457.5 302.4 L457.9 302.4 L458.5 303.0 L459.3 303.4 L460.2 303.7 L461.2 303.8 L462.4 303.8 L463.6 303.6 L464.6 303.2 L465.6 302.7 L466.4 303.6 L467.3 304.2 L468.2 304.6 L469.2 304.8 L470.2 304.9 L471.2 304.9 L472.3 304.7 L473.4 304.2 L474.4 304.7 L475.4 305.3 L476.4 305.8 L477.4 306.1 L478.5 306.2 L479.7 306.1 L480.7 305.9 L481.8 305.5 L482.9 305.3 L483.9 306.0 L484.9 306.5 L485.9 306.8 L487.0 306.9 L488.0 306.8 L489.1 306.6 L490.1 306.2 L491.2 305.5 L492.2 306.2 L493.2 306.7 L494.3 307.0 L495.3 307.1 L496.3 307.1 L497.4 306.9 L498.4 306.5 L499.4 306.0 L500.5 306.0 L501.5 306.5 L502.6 306.8 L503.6 307.0 L504.7 307.0 L505.7 306.8 L506.8 306.5 L507.8 305.9 L508.8 305.2 L509.9 305.9 L511.0 306.2 L512.2 306.4 L513.3 306.4 L514.4 306.2 L515.4 305.8 L516.4 305.3 L517.3 304.5 L518.4 304.7 L519.5 305.1 L520.5 305.2 L521.5 305.2 L522.4 305.1 L523.3 304.8 L524.1 304.4 L524.9 303.9 L526.0 303.5 L527.1 304.1 L528.1 304.4 L529.1 304.6 L529.8 304.6 L530.3 304.6 L530.5 304.4 L530.4 304.0 L530.2 303.1 L529.5 303.7 L528.6 303.7 L527.9 303.3 L527.5 303.2 L527.4 303.3 L527.6 303.8 L528.0 304.4 L528.7 304.8 L528.9 305.4 L528.3 306.2 L527.9 307.0 L527.7 307.9 L527.6 308.8 L527.7 309.7 L528.0 310.7 L528.4 311.7 L529.2 312.7 L528.6 313.7 L528.1 314.8 L527.7 315.8 L527.6 316.9 L527.6 318.0 L527.8 319.1 L528.1 320.1 L528.7 321.1 L529.3 322.1 L528.5 323.1 L528.0 324.1 L527.7 325.2 L527.6 326.2 L527.7 327.2 L528.0 328.2 L528.4 329.2 L529.1 330.1 L529.1 331.2 L528.5 332.2 L528.1 333.2 L527.9 334.2 L527.8 335.3 L527.9 336.3 L528.2 337.3 L528.7 338.4 L529.5 339.3 L529.2 340.4 L528.6 341.4 L528.2 342.5 L528.0 343.5 L528.0 344.5 L528.2 345.5 L528.5 346.4 L529.0 347.3 L530.0 348.2 L529.2 349.2 L528.6 350.1 L528.2 351.0 L528.0 351.8 L528.1 352.8 L528.4 353.9 L528.8 354.9 L529.4 355.8 L530.0 356.7 L529.3 357.3 L528.9 357.6 L528.7 357.8 L528.8 357.7 L529.0 357.7 L529.3 357.9 L529.6 358.4 L529.9 359.0 L529.3 359.1 L529.0 359.3 L528.7 359.7 L528.4 360.1 L528.2 360.6 L527.9 361.0 L527.6 361.4 L527.2 361.6 L526.8 361.8 L526.3 362.0 L525.7 362.1 L524.9 362.3 L524.2 362.5 L523.4 362.6 L522.5 362.7 L521.7 362.8 L520.8 362.9 L519.8 363.0 L518.9 363.0 L518.1 363.0 L517.5 362.9 L516.9 362.7 L516.1 362.6 L515.4 362.4 L514.5 362.1 L513.5 361.8 L512.5 361.5 L511.3 361.2 L509.9 360.9 L508.4 360.7 L507.0 360.6 L505.7 360.6 L504.4 360.6 L503.2 360.7 L502.1 360.8 L501.1 360.9 L500.3 361.0 L501.0 374.9 L502.1 374.8 L503.2 374.7 L504.2 374.5 L505.0 374.4 L505.7 374.3 L506.4 374.3 L507.0 374.3 L507.6 374.3 L508.1 374.3 L508.8 374.5 L509.6 374.6 L510.5 374.9 L511.6 375.1 L512.7 375.3 L513.9 375.6 L515.1 375.8 L516.5 375.9 L517.8 376.0 L518.9 376.1 L520.0 376.2 L521.1 376.3 L522.2 376.4 L523.4 376.5 L524.5 376.5 L525.7 376.5 L527.0 376.4 L528.3 376.3 L529.7 376.2 L531.2 375.9 L532.8 375.5 L534.2 375.1 L535.7 374.5 L537.0 373.7 L538.2 372.8 L539.6 372.2 L541.1 371.4 L542.4 370.5 L543.6 369.3 L544.7 367.9 L545.6 366.3 L546.0 364.3 L546.5 362.4 L547.6 360.7 L548.2 359.0 L548.5 357.5 L548.7 356.2 L548.6 355.1 L548.4 354.1 L547.9 353.1 L546.8 352.2 L547.9 351.1 L548.4 349.9 L548.6 348.8 L548.7 347.7 L548.5 346.6 L548.2 345.6 L547.8 344.6 L547.1 343.6 L546.4 342.7 L547.1 341.6 L547.5 340.6 L547.6 339.6 L547.6 338.6 L547.5 337.6 L547.1 336.7 L546.6 335.7 L545.9 334.8 L545.6 333.9 L546.3 332.9 L546.6 331.8 L546.8 330.8 L546.8 329.9 L546.7 328.9 L546.3 327.9 L545.8 326.9 L545.0 326.0 L545.2 325.0 L545.8 323.9 L546.1 322.9 L546.3 321.9 L546.2 321.0 L546.0 320.0 L545.7 319.0 L545.1 318.0 L544.0 317.1 L545.0 316.2 L545.6 315.3 L545.9 314.4 L546.0 313.4 L546.0 312.4 L545.8 311.4 L545.4 310.4 L544.8 309.3 L544.7 308.3 L545.3 307.2 L545.7 306.0 L545.9 304.7 L545.8 303.4 L545.5 301.9 L545.0 300.6 L544.1 299.3 L542.8 298.0 L542.5 296.1 L541.6 293.8 L539.9 291.6 L537.7 290.0 L535.4 289.0 L532.8 288.7 L530.8 288.9 L529.3 289.5 L528.0 289.9 L526.8 289.5 L525.7 289.3 L524.7 289.3 L523.8 289.4 L522.9 289.7 L521.7 290.1 L520.7 290.7 L519.8 291.8 L518.6 291.1 L517.5 290.9 L516.5 290.8 L515.5 290.9 L514.6 291.2 L513.7 291.5 L512.8 292.1 L512.0 292.8 L511.1 292.9 L510.1 292.4 L509.2 292.2 L508.3 292.1 L507.3 292.2 L506.4 292.4 L505.5 292.7 L504.6 293.3 L503.6 293.8 L502.6 293.1 L501.7 292.7 L500.7 292.5 L499.8 292.5 L498.8 292.6 L497.8 292.8 L496.9 293.2 L495.9 293.9 L494.9 293.4 L494.0 292.9 L493.0 292.6 L492.0 292.4 L491.1 292.4 L490.1 292.6 L489.2 292.8 L488.2 293.3 L487.2 293.5 L486.3 292.8 L485.4 292.4 L484.4 292.1 L483.5 292.0 L482.5 292.0 L481.6 292.2 L480.6 292.5 L479.6 293.3 L478.8 292.3 L478.0 291.7 L477.1 291.3 L476.2 291.0 L475.2 290.9 L474.2 290.9 L473.2 291.1 L472.1 291.5 L471.1 291.2 L470.2 290.4 L469.3 289.9 L468.3 289.5 L467.2 289.3 L466.1 289.3 L465.2 289.4 L464.3 289.7 L463.3 289.9 L462.5 289.0 L461.5 288.3 L460.2 287.8 L458.7 287.4 L456.9 287.4 L454.5 287.8 L452.1 288.9 L450.4 290.4 L448.0 291.5 L445.8 293.1 L444.2 294.9 L443.2 296.5 L442.5 298.1 L442.1 299.4 L442.0 301.0 L442.4 302.5 L442.7 303.8 L441.8 305.0 L441.3 306.2 L441.0 307.3 L440.8 308.4 L440.8 309.5 L441.0 310.5 L441.4 311.5 L442.0 312.5 L442.1 313.5 L441.4 314.5 L440.9 315.5 L440.7 316.4 L440.5 317.4 L440.6 318.3 L440.8 319.3 L441.2 320.4 L441.9 321.4 L441.9 322.4 L441.2 323.4 L440.8 324.4 L440.5 325.4 L440.4 326.4 L440.5 327.4 L440.7 328.4 L441.1 329.4 L441.8 330.4 L441.8 331.4 L441.1 332.4 L440.7 333.4 L440.4 334.4 L440.3 335.4 L440.4 336.4 L440.7 337.4 L441.1 338.5 L441.8 339.5 L441.8 340.5 L441.1 341.5 L440.6 342.5 L440.4 343.5 L440.3 344.5 L440.4 345.5 L440.7 346.5 L441.1 347.5 L441.8 348.5 L441.8 349.5 L441.1 350.5 L440.7 351.5 L440.4 352.5 L440.4 353.5 L440.5 354.5 L440.7 355.5 L441.1 356.5 L441.8 357.5 L441.8 358.5 L441.2 359.5 L440.7 360.5 L440.5 361.5 Z"/></g>
<path d="M459.2 353.5 Q456.0 352.6 452.9 353.2 M459.2 344.5 Q456.1 343.6 452.9 344.2 M459.3 335.0 Q456.1 334.1 452.9 334.7 M459.4 326.1 Q456.2 325.2 453.0 325.7 M459.5 317.6 Q456.3 316.7 453.1 317.2 M459.3 308.6 Q456.2 307.7 453.1 308.2 M459.5 302.1 Q456.9 300.3 454.0 299.9 M457.7 302.0 Q458.8 299.6 458.4 297.1 M465.7 302.7 Q466.9 300.6 466.6 298.3 M474.0 304.0 Q475.2 302.0 475.0 299.8 M482.9 305.0 Q484.0 303.0 483.6 300.8 M491.7 305.5 Q492.7 303.4 492.1 301.2 M499.9 305.5 Q500.8 303.4 500.2 301.2 M508.8 305.1 Q509.5 303.0 508.8 300.9 M517.8 304.2 Q518.3 301.9 517.3 299.8 M525.9 303.2 Q526.5 300.8 525.7 298.6 M530.1 303.1 Q532.2 301.4 532.9 298.9 M529.3 305.4 Q532.2 306.1 534.9 305.2 M529.4 313.2 Q532.1 314.1 534.9 313.6 M529.5 322.1 Q532.3 322.9 535.1 322.2 M529.7 331.1 Q532.6 331.9 535.4 331.2 M529.9 339.8 Q532.9 340.5 535.8 339.7 M530.1 348.7 Q533.2 349.4 536.3 348.7 M530.2 356.7 Q533.4 357.6 536.5 357.0 M529.9 359.0 Q531.9 361.8 534.4 363.2 M442.3 349.0 Q445.5 348.1 448.7 348.7 M442.3 339.5 Q445.5 338.6 448.7 339.2 M442.4 330.4 Q445.6 329.6 448.7 330.2 M442.5 321.4 Q445.7 320.5 448.8 321.2 M442.6 313.0 Q445.8 312.1 448.9 312.7 M443.0 303.2 Q446.2 302.6 449.2 303.5 M450.5 290.6 Q452.7 292.3 453.7 294.8 M463.7 290.2 Q464.2 292.6 463.2 294.8 M472.0 291.8 Q472.5 294.1 471.6 296.2 M479.6 293.2 Q480.2 295.4 479.4 297.5 M487.7 293.9 Q488.5 296.0 487.7 298.1 M495.9 294.1 Q496.8 296.2 496.2 298.4 M504.1 294.0 Q505.1 296.0 504.6 298.2 M512.0 293.2 Q513.2 295.2 512.9 297.5 M519.7 291.7 Q521.0 293.8 520.8 296.1 M528.6 290.2 Q529.7 292.5 529.3 295.0 M542.7 298.1 Q540.4 299.8 537.7 300.1 M544.2 308.8 Q541.4 309.7 538.7 309.1 M544.1 317.6 Q541.4 318.6 538.7 318.0 M544.6 326.0 Q541.9 327.0 539.0 326.5 M545.2 334.4 Q542.4 335.4 539.4 335.0 M546.2 343.2 Q543.2 344.3 540.1 343.9 M547.0 352.7 Q543.8 353.6 540.6 353.0 M545.9 363.2 Q542.5 363.1 539.8 361.6" fill="none" stroke="#c27a82" stroke-width="1.1" stroke-linecap="round"/>
<path d="M450.8 358.0 L450.8 357.0 L450.8 356.0 L450.8 355.0 L450.8 354.0 L450.8 353.0 L450.8 352.0 L450.8 351.0 L450.8 350.0 L450.8 349.0 L450.8 348.0 L450.8 347.0 L450.8 346.0 L450.8 345.0 L450.8 344.0 L450.8 343.0 L450.8 342.0 L450.8 341.0 L450.8 340.0 L450.8 339.0 L450.8 338.0 L450.8 337.0 L450.8 336.0 L450.8 335.0 L450.8 334.0 L450.8 333.0 L450.8 332.0 L450.9 331.0 L450.9 330.0 L450.9 329.0 L450.9 328.0 L450.9 327.0 L450.9 326.0 L450.9 325.0 L450.9 324.0 L450.9 323.0 L450.9 322.0 L451.0 321.0 L451.0 320.0 L451.0 319.0 L451.0 318.0 L451.0 317.0 L451.0 316.0 L451.0 315.0 L451.0 314.0 L451.0 313.0 L451.0 312.0 L451.0 311.0 L451.0 310.0 L451.0 309.0 L451.0 308.0 L451.0 307.0 L451.1 306.0 L451.1 305.0 L451.2 304.0 L451.3 303.0 L451.5 302.0 L451.7 301.1 L452.0 300.1 L452.3 299.1 L452.7 298.2 L453.3 297.4 L454.0 296.7 L454.8 296.1 L455.7 295.7 L456.7 295.5 L457.7 295.5 L458.7 295.5 L459.7 295.7 L460.7 295.8 L461.6 296.0 L462.6 296.2 L463.6 296.4 L464.6 296.5 L465.6 296.7 L466.6 296.8 L467.6 297.0 L468.5 297.2 L469.5 297.3 L470.5 297.5 L471.5 297.7 L472.5 297.9 L473.5 298.0 L474.4 298.2 L475.4 298.4 L476.4 298.5 L477.4 298.7 L478.4 298.8 L479.4 298.9 L480.4 299.0 L481.4 299.1 L482.4 299.2 L483.4 299.3 L484.4 299.4 L485.4 299.5 L486.4 299.5 L487.4 299.6 L488.4 299.6 L489.4 299.7 L490.4 299.7 L491.4 299.7 L492.4 299.8 L493.4 299.8 L494.4 299.8 L495.4 299.8 L496.4 299.8 L497.4 299.8 L498.4 299.8 L499.4 299.8 L500.4 299.8 L501.4 299.8 L502.4 299.7 L503.4 299.7 L504.4 299.7 L505.4 299.6 L506.4 299.6 L507.4 299.5 L508.4 299.4 L509.4 299.4 L510.3 299.3 L511.3 299.2 L512.3 299.0 L513.3 298.9 L514.3 298.7 L515.3 298.6 L516.3 298.4 L517.3 298.2 L518.3 298.1 L519.2 297.9 L520.2 297.7 L521.2 297.6 L522.2 297.4 L523.2 297.3 L524.2 297.2 L525.2 297.1 L526.2 296.9 L527.2 296.8 L528.2 296.7 L529.2 296.6 L530.2 296.5 L531.2 296.6 L532.1 296.7 L533.1 297.0 L533.9 297.5 L534.7 298.2 L535.3 299.0 L535.7 299.9 L536.0 300.9 L536.3 301.8 L536.5 302.8 L536.6 303.8 L536.7 304.8 L536.8 305.8 L536.8 306.8 L536.8 307.8 L536.8 308.8 L536.8 309.8 L536.8 310.8 L536.8 311.8 L536.8 312.8 L536.8 313.8 L536.8 314.8 L536.8 315.8 L536.8 316.8 L536.8 317.8 L536.8 318.8 L536.9 319.8 L536.9 320.8 L536.9 321.8 L537.0 322.8 L537.0 323.8 L537.0 324.8 L537.1 325.8 L537.1 326.8 L537.2 327.8 L537.2 328.8 L537.3 329.8 L537.3 330.8 L537.3 331.8 L537.4 332.8 L537.4 333.8 L537.5 334.8 L537.5 335.8 L537.6 336.8 L537.7 337.8 L537.7 338.8 L537.8 339.8 L537.9 340.8 L537.9 341.8 L538.0 342.8 L538.1 343.8 L538.2 344.8 L538.2 345.8 L538.3 346.8 L538.4 347.7 L538.4 348.7 L538.5 349.7 L538.5 350.7 L538.5 351.7 L538.5 352.7 L538.5 353.7 L538.5 354.7 L538.6 355.7 L538.6 356.7 L538.5 357.7 L538.4 358.7 L538.3 359.7 L538.0 360.7 L537.7 361.6 L537.2 362.5 L536.7 363.4 L536.1 364.1 L535.4 364.9 L534.7 365.6 L533.9 366.2 L533.1 366.8 L532.3 367.4 L531.4 367.9 L530.5 368.3 L529.6 368.7 L528.6 368.9 L527.6 369.1 L526.6 369.3 L525.7 369.4 L524.7 369.5 L523.7 369.6 L522.7 369.6 L521.7 369.6 L520.7 369.6" fill="none" stroke="#c27a82" stroke-width="0.9" stroke-dasharray="4.5 2.5"/>
<path d="M495 392 C497 391.5 499 391.5 500 392.5 M519 369.5 C526 368.5 532 366 537 361" fill="none" stroke="#c27a82" stroke-width="0.8"/>
<!-- CIRCLES -->
<defs>
<clipPath id="c1"><circle cx="306.5" cy="66.9" r="33.5"/></clipPath>
<clipPath id="c2"><circle cx="306.5" cy="145.8" r="33.6"/></clipPath>
<clipPath id="c3"><circle cx="306.3" cy="225.2" r="33.8"/></clipPath>
<clipPath id="c4"><circle cx="306.1" cy="303.7" r="33.7"/></clipPath>
<clipPath id="c5"><circle cx="306.3" cy="383.3" r="33.9"/></clipPath>
</defs>
<!-- circle 1: chewing -->
<g clip-path="url(#c1)">
<rect x="270" y="30" width="75" height="75" fill="#f7c0b2"/>
<path fill="#d9dadb" stroke="#c27a82" stroke-width="0.8" d="M270 30 L290 30 C290 33 289.5 35.5 289.2 37.3 C287 40 285.4 43 284.5 46 C283.8 49 284.5 51.5 285.6 52.8 C287 54 288.8 54.4 291 54.4 L291 67.6 C288.5 67.6 287 68 285.6 69.2 C284 71.5 283.8 73 283.8 75 C284 79 285 81 285.6 82.5 C287 85 287.8 87 287.9 89 C288 91 287.8 93 287.8 95 L288 105 L270 105 Z"/>
<rect x="288" y="57.5" width="16" height="11.5" fill="#d9dadb"/>
<path fill="#f4ac3e" d="M300.5 64.5 C300.5 61.5 302.5 59.8 306 59.6 L342 59.4 L342 70 L306 70.2 C302.5 70 300.5 67.5 300.5 64.5 Z"/>
<g fill="#fff" stroke="#c9c9c9" stroke-width="0.45"><rect x="290.8" y="52.0" width="2.0" height="8.8" rx="1.0" ry="3.2"/><rect x="293.2" y="51.8" width="3.1" height="9.2" rx="1.6" ry="3.2"/><rect x="296.8" y="52.2" width="5.3" height="9.1" rx="2.6" ry="3.2"/><rect x="302.5" y="52.4" width="5.4" height="9.2" rx="2.7" ry="3.2"/><rect x="308.3" y="52.6" width="7.1" height="9.3" rx="3.0" ry="3.2"/><rect x="315.9" y="52.8" width="9.3" height="9.4" rx="3.0" ry="3.2"/><rect x="325.7" y="53.0" width="8.7" height="9.2" rx="3.0" ry="3.2"/><rect x="334.8" y="53.2" width="6.7" height="9.0" rx="3.0" ry="3.2"/></g>
<g fill="#fff" stroke="#c9c9c9" stroke-width="0.45"><rect x="290.8" y="68.4" width="2.1" height="8.2" rx="1.1" ry="3.2"/><rect x="293.3" y="68.2" width="3.4" height="8.8" rx="1.7" ry="3.2"/><rect x="297.1" y="68.2" width="5.8" height="9.2" rx="2.9" ry="3.2"/><rect x="303.3" y="68.4" width="6.2" height="9.3" rx="3.0" ry="3.2"/><rect x="309.9" y="68.6" width="6.2" height="9.1" rx="3.0" ry="3.2"/><rect x="316.6" y="68.4" width="8.3" height="8.9" rx="3.0" ry="3.2"/><rect x="325.4" y="68.2" width="8.2" height="8.4" rx="3.0" ry="3.2"/><rect x="334.1" y="68.0" width="7.4" height="7.9" rx="3.0" ry="3.2"/></g>
<path fill="none" stroke="#7d4e15" stroke-width="0.8" d="M304 61.8 C301.5 62.3 300.6 64 301 66 C301.5 67.5 302.5 68.3 304 68.3 M318.8 62.3 C320.5 63.5 321.3 65 320.5 66.6 C320 67.5 319 68.3 318.5 69.2 M324.8 62.6 C323.5 63.8 323.6 65 324.5 66 M326.5 63.2 C328 64 329.5 63.6 331 62.8 M332.5 62.8 C331.5 64 331.8 65.8 333 66.6"/>
<path fill="none" stroke="#c27a82" stroke-width="0.8" d="M288.5 54.5 C289.5 52.5 290.2 51.6 291.8 51.7 C293.5 50.6 296.0 50.6 296.3 52.4 C297.1 51.0 301.8 51.0 302.1 52.8 C302.8 51.2 307.6 51.2 307.9 53.0 C308.6 51.4 315.1 51.4 315.4 53.2 C316.2 51.6 324.9 51.6 325.2 53.4 C326.0 51.8 334.1 51.8 334.4 53.6 C335.1 52.0 341.2 52.0 341.5 53.8 M288.5 74.5 C289.5 76.5 290.2 77.4 291.8 77.3 C293.6 78.2 296.4 78.2 296.7 76.4 C297.4 78.6 302.6 78.6 302.9 76.8 C303.6 78.9 309.2 78.9 309.5 77.1 C310.2 78.9 315.8 78.9 316.1 77.1 C316.9 78.5 324.6 78.5 324.9 76.7 C325.7 77.8 333.3 77.8 333.6 76.0 C334.4 77.1 341.2 77.1 341.5 75.3"/>
</g>

<!-- circle 2: swallowing -->
<g clip-path="url(#c2)">
<rect x="270" y="110" width="75" height="75" fill="#a03c46"/>
<path fill="#c54c5b" d="M300 110 C300.8 116 304.8 122 304.8 126.5 C304.8 130.5 298.5 135 297.2 142 C296.5 148 296.6 155 298.2 162 C299.5 166 300 170 300 182 L311.9 182 C311.9 170 313.2 166 315 162 C316.6 155 316.8 148 316.2 142 C315 135 309.3 130.5 309.3 126.5 C309.3 122 311.4 116 312.2 110 Z"/>
<g fill="none" stroke="#d4888d" stroke-width="3.2"><path d="M300 110 C300.8 116 304.8 122 304.8 126.5 C304.8 130.5 298.5 135 297.2 142 C296.5 148 296.6 155 298.2 162 C299.5 166 300 170 300 182"/><path d="M312.2 110 C311.4 116 309.3 122 309.3 126.5 C309.3 130.5 315 135 316.2 142 C316.8 148 316.6 155 315 162 C313.2 166 311.9 170 311.9 182"/></g>
<g fill="none" stroke="#f5bbac" stroke-width="1.5"><path d="M300 110 C300.8 116 304.8 122 304.8 126.5 C304.8 130.5 298.5 135 297.2 142 C296.5 148 296.6 155 298.2 162 C299.5 166 300 170 300 182"/><path d="M312.2 110 C311.4 116 309.3 122 309.3 126.5 C309.3 130.5 315 135 316.2 142 C316.8 148 316.6 155 315 162 C313.2 166 311.9 170 311.9 182"/></g>
<path fill="#f4aa3d" stroke="#7e5219" stroke-width="0.7" d="M306.5 133.9 C311 136 314.7 142 314.7 149 C314.7 156 311 161.3 306.5 163.6 C302 161.3 298.6 156 298.6 149 C298.6 142 302 136 306.5 133.9 Z"/>
</g>

<!-- circle 3: digestion -->
<g clip-path="url(#c3)">
<rect x="270" y="188" width="75" height="75" fill="#c54c5b"/>
<path fill="#a8404c" d="M270 188 L289.6 188 C288 198 286 210 285 224.8 C284.6 236 285.8 246 287.5 256 L288.5 262 L270 262 Z"/>
<path fill="#b04653" d="M270 188 L289.6 188 C288.5 195 287.5 202 286.6 210 L276.5 208 L270 202 Z"/>
<path fill="#e99a9b" d="M270 203 L276.5 208.2 L286.3 216.5 L285.2 226.4 L274.3 216.5 L270 212 Z"/>
<path fill="#a13e4a" d="M326.5 188 L345 188 L345 262 L325.5 262 L324.5 256 C322.5 246 321 236 321.3 224.8 C322.5 210 325 198 326.5 188 Z"/>
<g fill="none" stroke="#f6b8a8" stroke-width="2.2">
<path d="M289.6 188 C288 198 286 210 285 224.8 C284.6 236 285.8 246 287.5 256 L288.5 262"/>
<path d="M326.5 188 C325 198 322.5 210 321.3 224.8 C321 236 322.5 246 324.5 256 L325.5 262"/>
</g>
<g fill="none" stroke="#a8404c" stroke-width="0.9">
<path d="M287.9 199 C294 197.3 300 196.6 305.3 196.8 C312 197.2 318 199 323.8 202"/>
<path d="M286.4 219.5 C292 218 298 217 303.8 217 C310 217.3 316 219 321.6 221.8"/>
<path d="M286 243 C292 241.6 297 240.8 302.3 240.8 C309 241 315 242.5 321.6 244.5"/>
</g>
<circle cx="295.8" cy="228.8" r="3.1" fill="#a33a48"/>
<g fill="#1f9b4a">
<path d="M292.8 227.2 C295.5 229 299.5 232 299.4 234.5 C299.2 237 296.2 237.5 295 235.5 C293.5 233 293 230 292.8 227.2 Z"/>
<path d="M296.5 241.5 C298 243.5 301.8 247 301.7 249 C301.5 251.5 297 252 295.6 249.5 C294.8 247 295.8 244 296.5 241.5 Z"/>
<path d="M303.3 237.2 C306 237 311 238 313 240 C314.5 242 312.5 245 310 244.5 C307.5 244 305 240 303.3 237.2 Z"/>
<path d="M306.5 248.8 C307.5 250.5 309.8 252.5 309.8 254 C309.7 255.8 306.3 256 306 254 C305.7 252.5 306 250.5 306.5 248.8 Z"/>
</g>
</g>

<!-- circle 4: absorption -->
<g clip-path="url(#c4)">
<rect x="270" y="268" width="75" height="75" fill="#c54c5b"/>
<path fill="#a8414d" d="M270 268 L284.5 268 C283 280 281 292 280.8 305 C281 318 283 328 284.5 342 L270 342 Z"/>
<path fill="none" stroke="#f6b8a8" stroke-width="2.4" d="M284.6 268 C283 280 281.3 292 281.2 305 C281.3 318 283 328 284.6 342"/>
<path fill="#f3ae7a" d="M308 268 L321.5 268 C320.5 285 320 295 320 305 C320 318 320.5 328 321.5 342 L308 342 Z"/>
<path fill="#a13e4a" d="M322 268 L345 268 L345 342 L322.5 342 C321.5 328 321 318 321 305 C321 295 321.5 283 322 268 Z"/>
<path fill="none" stroke="#f6c6b3" stroke-width="1.2" d="M321.8 268 C321 283 320.6 295 320.6 305 C320.6 318 321 328 321.8 342"/>
<g fill="#c54c5b"><path d="M298.5 270.6 C300 268.2 302.5 267.6 306.5 267.6 C310.3 267.6 312.6 268.7 312.6 270.6 C312.6 272.5 310.3 273.6 306.5 273.6 C302.5 273.6 300 273.0 298.5 270.6 Z"/><path d="M298.5 279.1 C300 276.7 302.5 276.1 306.5 276.1 C310.3 276.1 312.6 277.2 312.6 279.1 C312.6 281.0 310.3 282.1 306.5 282.1 C302.5 282.1 300 281.5 298.5 279.1 Z"/><path d="M298.5 287.6 C300 285.2 302.5 284.6 306.5 284.6 C310.3 284.6 312.6 285.7 312.6 287.6 C312.6 289.5 310.3 290.6 306.5 290.6 C302.5 290.6 300 290.0 298.5 287.6 Z"/><path d="M298.5 296.2 C300 293.9 302.5 293.2 306.5 293.2 C310.3 293.2 312.6 294.4 312.6 296.2 C312.6 298.1 310.3 299.2 306.5 299.2 C302.5 299.2 300 298.6 298.5 296.2 Z"/><path d="M298.5 304.9 C300 302.5 302.5 301.9 306.5 301.9 C310.3 301.9 312.6 303.0 312.6 304.9 C312.6 306.8 310.3 307.9 306.5 307.9 C302.5 307.9 300 307.3 298.5 304.9 Z"/><path d="M298.5 313.5 C300 311.1 302.5 310.5 306.5 310.5 C310.3 310.5 312.6 311.6 312.6 313.5 C312.6 315.4 310.3 316.5 306.5 316.5 C302.5 316.5 300 315.9 298.5 313.5 Z"/><path d="M298.5 322.1 C300 319.7 302.5 319.1 306.5 319.1 C310.3 319.1 312.6 320.2 312.6 322.1 C312.6 324.0 310.3 325.1 306.5 325.1 C302.5 325.1 300 324.5 298.5 322.1 Z"/><path d="M298.5 330.7 C300 328.3 302.5 327.7 306.5 327.7 C310.3 327.7 312.6 328.8 312.6 330.7 C312.6 332.6 310.3 333.7 306.5 333.7 C302.5 333.7 300 333.1 298.5 330.7 Z"/><path d="M298.5 339.3 C300 336.9 302.5 336.3 306.5 336.3 C310.3 336.3 312.6 337.4 312.6 339.3 C312.6 341.2 310.3 342.3 306.5 342.3 C302.5 342.3 300 341.7 298.5 339.3 Z"/></g>
<g fill="#f3ae7a"><path d="M294.2 274.9 C294.2 271.8 300.2 271.7 301.2 272.7 C302.2 273.4 300 273.5 303 273.5 L309.5 273.5 L309.5 276.2 L303 276.2 C300 276.2 302.2 276.4 301.2 277.1 C300.2 278.1 294.2 278.0 294.2 274.9 Z"/><path d="M292.6 283.3 C292.6 280.2 298.6 280.1 299.6 281.1 C300.6 281.8 300 281.9 303 281.9 L309.5 281.9 L309.5 284.7 L303 284.7 C300 284.7 300.6 284.8 299.6 285.5 C298.6 286.5 292.6 286.4 292.6 283.3 Z"/><path d="M291.2 291.9 C291.2 288.8 297.2 288.7 298.2 289.7 C299.2 290.4 300 290.5 303 290.5 L309.5 290.5 L309.5 293.2 L303 293.2 C300 293.2 299.2 293.4 298.2 294.1 C297.2 295.1 291.2 295.0 291.2 291.9 Z"/><path d="M290.8 300.6 C290.8 297.5 296.8 297.4 297.8 298.4 C298.8 299.1 300 299.2 303 299.2 L309.5 299.2 L309.5 302.0 L303 302.0 C300 302.0 298.8 302.1 297.8 302.8 C296.8 303.8 290.8 303.7 290.8 300.6 Z"/><path d="M290.8 309.2 C290.8 306.1 296.8 306.0 297.8 307.0 C298.8 307.7 300 307.8 303 307.8 L309.5 307.8 L309.5 310.6 L303 310.6 C300 310.6 298.8 310.7 297.8 311.4 C296.8 312.4 290.8 312.3 290.8 309.2 Z"/><path d="M291.0 317.8 C291.0 314.7 297.0 314.6 298.0 315.6 C299.0 316.3 300 316.4 303 316.4 L309.5 316.4 L309.5 319.2 L303 319.2 C300 319.2 299.0 319.3 298.0 320.0 C297.0 321.0 291.0 320.9 291.0 317.8 Z"/><path d="M291.6 326.4 C291.6 323.3 297.6 323.2 298.6 324.2 C299.6 324.9 300 325.0 303 325.0 L309.5 325.0 L309.5 327.8 L303 327.8 C300 327.8 299.6 327.9 298.6 328.6 C297.6 329.6 291.6 329.5 291.6 326.4 Z"/><path d="M292.6 335.0 C292.6 331.9 298.6 331.8 299.6 332.8 C300.6 333.5 300 333.6 303 333.6 L309.5 333.6 L309.5 336.4 L303 336.4 C300 336.4 300.6 336.5 299.6 337.2 C298.6 338.2 292.6 338.1 292.6 335.0 Z"/></g>
<g fill="#f8d43a">
<circle cx="318.7" cy="290.4" r="2.8"/>
<circle cx="311.4" cy="296.8" r="2.9"/>
<circle cx="315.5" cy="304.1" r="2.1"/>
<circle cx="310.3" cy="312.3" r="2.9"/>
<circle cx="319.5" cy="314.7" r="2"/>
<circle cx="323.6" cy="303" r="2.1"/>
<circle cx="329.3" cy="294.9" r="2.1"/>
<circle cx="328.8" cy="310.3" r="2"/>
</g>
</g>

<!-- circle 5: defecation -->
<g clip-path="url(#c5)">
<rect x="270" y="348" width="75" height="75" fill="#c54c5b"/>
<path fill="#a8414d" d="M270 348 L285.4 348 L285.4 355.7 C285.8 362 286 370 286.2 375.2 C288 378 290 381 291.1 383.3 C290 386 288 389 286.2 391.5 C286 398 286.2 406 286.2 418 L270 418 Z"/>
<path fill="#a8414d" d="M345 348 L329.3 348 L329.3 355.7 C328.5 362 328 368 327.6 373.6 C326 376 324.5 378.5 323.6 380.9 C324.5 383.5 326 386 327.6 388.2 C328.5 395 329.3 404 330 418 L345 418 Z"/>
<g fill="none" stroke="#f6b8a8" stroke-width="2">
<path d="M285.4 348 L285.4 355.7 C285.8 362 286 370 286.2 375.2 C288 378 290 381 291.1 383.3 C290 386 288 389 286.2 391.5 C286 398 286.2 406 286.2 418"/>
<path d="M329.3 348 L329.3 355.7 C328.5 362 328 368 327.6 373.6 C326 376 324.5 378.5 323.6 380.9 C324.5 383.5 326 386 327.6 388.2 C328.5 395 329.3 404 330 418"/>
</g>
<g fill="#8c5a2b" stroke="#6b4010" stroke-width="1.5" stroke-linejoin="round"><path d="M298.6 360.5 L299.8 360.4 L301.0 360.5 L302.3 360.7 L303.6 361.0 L304.9 361.4 L306.0 361.8 L307.1 362.2 L308.1 362.7 L309.0 363.2 L309.9 363.7 L310.8 364.3 L311.5 364.9 L312.2 365.5 L312.9 366.2 L313.5 366.8 L314.0 367.5 L314.3 368.3 L314.5 369.0 L314.5 369.8 L314.3 370.7 L313.9 371.6 L313.4 372.5 L312.8 373.3 L312.0 374.0 L311.0 374.5 L309.7 375.0 L308.3 375.3 L306.9 375.6 L305.4 375.8 L304.0 376.0 L302.6 376.1 L301.2 376.2 L299.7 376.3 L298.3 376.3 L297.1 376.2 L296.1 376.0 L295.4 375.7 L294.8 375.4 L294.5 375.0 L294.2 374.5 L293.9 374.0 L293.6 373.5 L293.2 373.0 L292.9 372.4 L292.5 371.8 L292.2 371.2 L292.0 370.5 L291.8 369.8 L291.7 369.0 L291.6 368.0 L291.6 367.0 L291.7 366.0 L291.9 365.0 L292.4 364.2 L293.1 363.4 L294.0 362.6 L295.1 361.9 L296.2 361.3 L297.4 360.8 L298.6 360.5 Z"/><path d="M309.7 369.8 L310.8 370.0 L311.9 370.3 L313.0 370.7 L314.0 371.2 L315.0 371.7 L315.8 372.3 L316.5 373.0 L317.1 373.7 L317.7 374.5 L318.2 375.4 L318.6 376.3 L318.9 377.2 L319.2 378.2 L319.4 379.2 L319.5 380.3 L319.6 381.4 L319.6 382.4 L319.5 383.4 L319.4 384.3 L319.3 385.2 L319.1 386.1 L318.8 386.9 L318.4 387.7 L317.7 388.3 L316.8 388.9 L315.7 389.3 L314.4 389.7 L313.0 390.1 L311.5 390.3 L310.0 390.5 L308.4 390.6 L306.6 390.6 L304.7 390.5 L302.9 390.4 L301.3 390.2 L300.0 390.0 L299.0 389.8 L298.3 389.6 L297.8 389.3 L297.4 389.1 L297.1 388.7 L296.7 388.3 L296.3 387.8 L295.9 387.3 L295.6 386.7 L295.3 386.1 L295.1 385.4 L294.9 384.6 L294.8 383.7 L294.7 382.7 L294.6 381.6 L294.7 380.5 L294.7 379.4 L294.9 378.4 L295.1 377.4 L295.4 376.4 L295.8 375.4 L296.2 374.5 L296.7 373.6 L297.3 372.9 L298.0 372.3 L298.7 371.8 L299.5 371.3 L300.4 371.0 L301.3 370.7 L302.3 370.4 L303.4 370.2 L304.6 369.9 L305.9 369.8 L307.2 369.7 L308.5 369.7 L309.7 369.8 Z"/><path d="M307.2 388.3 L308.7 388.3 L310.2 388.4 L311.8 388.6 L313.3 388.8 L314.6 389.1 L315.8 389.5 L316.8 390.0 L317.7 390.5 L318.4 391.1 L319.0 391.8 L319.6 392.5 L320.1 393.2 L320.5 393.9 L320.8 394.7 L321.1 395.6 L321.2 396.4 L321.3 397.3 L321.4 398.2 L321.4 399.2 L321.5 400.2 L321.4 401.3 L321.3 402.3 L321.1 403.3 L320.8 404.3 L320.4 405.2 L320.0 406.2 L319.5 407.1 L318.9 408.0 L318.1 408.7 L317.1 409.3 L315.8 409.7 L314.2 410.1 L312.5 410.3 L310.6 410.4 L308.8 410.5 L307.2 410.5 L305.6 410.5 L304.1 410.4 L302.6 410.2 L301.1 410.0 L299.8 409.7 L298.6 409.3 L297.6 408.9 L296.7 408.4 L295.9 407.8 L295.2 407.2 L294.7 406.5 L294.2 405.6 L293.9 404.6 L293.6 403.4 L293.5 402.1 L293.5 400.7 L293.5 399.4 L293.6 398.2 L293.7 397.1 L293.8 395.9 L294.0 394.8 L294.2 393.7 L294.5 392.8 L294.9 392.0 L295.3 391.4 L295.8 390.8 L296.3 390.4 L296.9 390.1 L297.7 389.8 L298.6 389.5 L299.7 389.2 L301.1 388.9 L302.6 388.7 L304.2 388.5 L305.7 388.3 L307.2 388.3 Z"/></g>
</g>

<!-- TEXT -->
<g class="t">
<text x="15.2" y="48" textLength="195.6" lengthAdjust="spacingAndGlyphs">THE FUNCTIONS OF</text>
<text x="15.2" y="69.9" textLength="242.5" lengthAdjust="spacingAndGlyphs">THE GASTROINTESTINAL</text>
<text x="15.2" y="91.7" textLength="64.8" lengthAdjust="spacingAndGlyphs">TRACT</text>
</g>
<g class="l" text-anchor="end">
<text x="225.3" y="119.4" textLength="172.4" lengthAdjust="spacingAndGlyphs">CHEWING AND SALIVATION</text>
<text x="224.7" y="135.2" class="p" textLength="59.1" lengthAdjust="spacingAndGlyphs">(1 minute)</text>
<text x="224.6" y="183.6" textLength="89.4" lengthAdjust="spacingAndGlyphs">SWALLOWING</text>
<text x="224.7" y="199.7" class="p" textLength="91.7" lengthAdjust="spacingAndGlyphs">(2 to 3 seconds)</text>
<text x="225.5" y="248.4" textLength="71.7" lengthAdjust="spacingAndGlyphs">DIGESTION</text>
<text x="224.6" y="264.2" class="p" textLength="77" lengthAdjust="spacingAndGlyphs">(2 to 4 hours)</text>
<text x="225.5" y="312.9" textLength="84.5" lengthAdjust="spacingAndGlyphs">ABSORPTION</text>
<text x="224.6" y="328.8" class="p" textLength="76.8" lengthAdjust="spacingAndGlyphs">(1 to 4 hours)</text>
<text x="225.8" y="369.8" textLength="84.4" lengthAdjust="spacingAndGlyphs">DEFECATION</text>
<text x="224.8" y="385.6" class="p" textLength="130.8" lengthAdjust="spacingAndGlyphs">(10 hours to a few days</text>
<text x="224.8" y="401.8" class="p" textLength="86" lengthAdjust="spacingAndGlyphs">after ingestion)</text>
</g>

<!-- DASHED LINES -->
<g fill="none" stroke="#000" stroke-width="2" stroke-dasharray="5.8 3.8">
<path d="M227.3 114.2 L276 88.4"/>
<path d="M343.2 66.3 L466.3 79"/>
<path d="M227.3 180 L273.5 159.5"/>
<path d="M342.9 146.2 L493.5 164.9"/>
<path d="M227.3 245 L269.3 225.6"/>
<path d="M343.4 225.1 L515.4 272.2"/>
<path d="M226.5 307.4 L268.7 304.6"/>
<path d="M344 304.3 L498.4 332.7"/>
<path d="M226.5 366.2 L269.3 376.8"/>
<path d="M344 383.5 L498.8 379.6"/>
</g>
<!-- DOTS -->
<g fill="#000">
<circle cx="466.4" cy="79.3" r="3.8"/>
<circle cx="493.5" cy="164.9" r="3.8"/>
<circle cx="515.4" cy="272.2" r="3.8"/>
<circle cx="498.4" cy="332.7" r="3.8"/>
<circle cx="498.8" cy="379.6" r="3.8"/>
</g>

</svg>
</body></html>
